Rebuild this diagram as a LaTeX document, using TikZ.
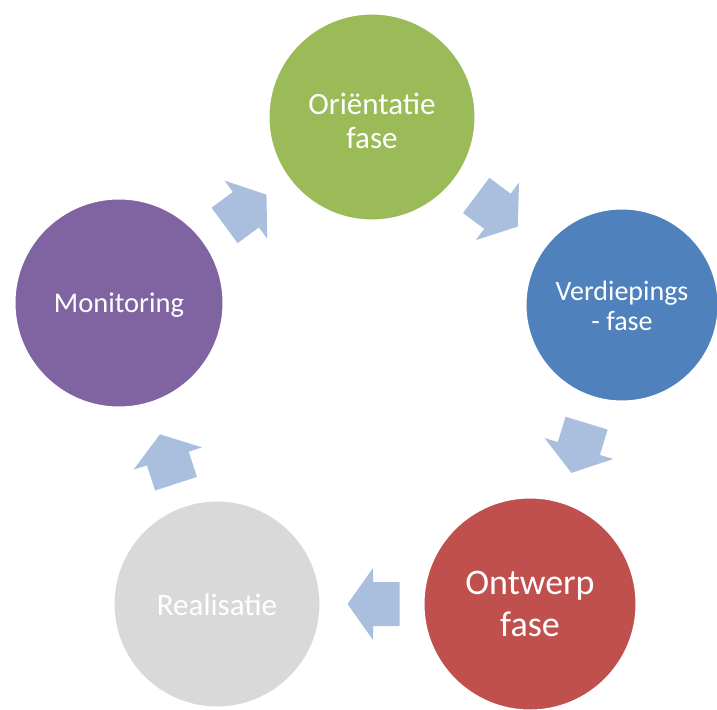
\documentclass[tikz,border=0pt]{standalone}
\usepackage{fontspec}
\setmainfont{Carlito}
\usetikzlibrary{calc}
\definecolor{cgreen}{HTML}{9BBB59}
\definecolor{cblue}{HTML}{4F81BD}
\definecolor{cred}{HTML}{C0504D}
\definecolor{cgray}{HTML}{D9D9D9}
\definecolor{cpurple}{HTML}{8064A2}
\definecolor{arrowblue}{HTML}{AABFDD}
\begin{document}
\begin{tikzpicture}[x=1pt,y=-1pt,
  phase/.style={circle, draw=white, line width=3pt, inner sep=0pt},
  phasetext/.style={text=white, align=center, inner sep=0pt},
  blockarrow/.style={fill=arrowblue}]
\useasboundingbox (0,0) rectangle (717,709);
\coordinate (cO) at (372,117);
\coordinate (cV) at (622,305);
\coordinate (cW) at (530,604);
\coordinate (cR) at (217,604);
\coordinate (cM) at (119,303);
% block arrows
\fill[blockarrow, shift={($(cM)!0.5!(cO)$)}, rotate=36.3]
  (-26,-22) -- (0.5,-22) -- (0.5,-36) -- (26,0) -- (0.5,36) -- (0.5,22) -- (-26,22) -- cycle;
\fill[blockarrow, shift={($(cO)!0.5!(cV)$)}, rotate=-36.9]
  (-26,-22) -- (0.5,-22) -- (0.5,-36) -- (26,0) -- (0.5,36) -- (0.5,22) -- (-26,22) -- cycle;
\fill[blockarrow, shift={(579,448)}, rotate=-107]
  (-26,-22) -- (0.5,-22) -- (0.5,-36) -- (26,0) -- (0.5,36) -- (0.5,22) -- (-26,22) -- cycle;
\fill[blockarrow, shift={($(cW)!0.5!(cR)$)}, rotate=180]
  (-26,-22) -- (0.5,-22) -- (0.5,-36) -- (26,0) -- (0.5,36) -- (0.5,22) -- (-26,22) -- cycle;
\fill[blockarrow, shift={(168,459)}, rotate=108]
  (-26,-22) -- (0.5,-22) -- (0.5,-36) -- (26,0) -- (0.5,36) -- (0.5,22) -- (-26,22) -- cycle;
% phases
\node[phase, fill=cgreen, minimum size=208pt] (O) at (cO) {};
\node[phase, fill=cblue, minimum size=194pt] (V) at (cV) {};
\node[phase, fill=cred, minimum size=214pt] (W) at (cW) {};
\node[phase, fill=cgray, minimum size=208pt] (R) at (cR) {};
\node[phase, fill=cpurple, minimum size=210pt] (M) at (cM) {};
% labels
\node[phasetext, font=\fontsize{31}{34}\selectfont] (Ot) at ($(cO)+(0,4)$) {Oriëntatie\\fase};
\node[phasetext, font=\fontsize{28}{30}\selectfont] (Vt) at ($(cV)+(0,1)$) {Verdiepings\\- fase};
\node[phasetext, font=\fontsize{36}{42}\selectfont] (Wt) at (cW) {Ontwerp\\fase};
\node[phasetext, font=\fontsize{31}{34}\selectfont] (Rt) at ($(cR)+(0,1)$) {Realisatie};
\node[phasetext, font=\fontsize{28.5}{34}\selectfont] (Mt) at ($(cM)+(0,2)$) {Monitoring};
\end{tikzpicture}
\end{document}
